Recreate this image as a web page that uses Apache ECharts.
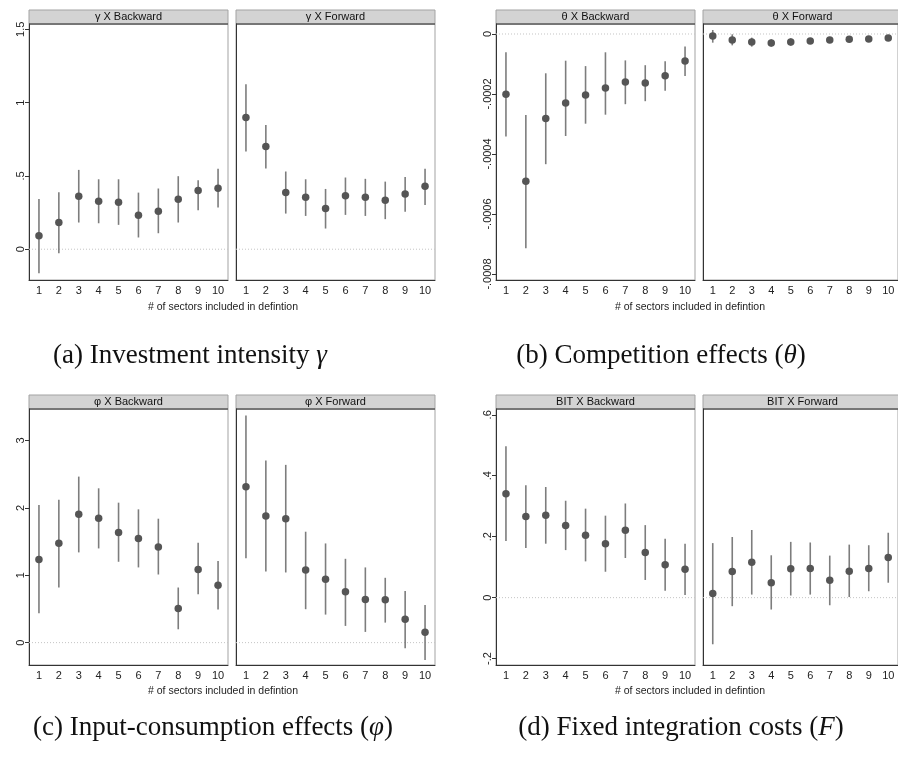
<!DOCTYPE html>
<html>
<head>
<meta charset="utf-8">
<script src="https://cdn.jsdelivr.net/npm/echarts@6/dist/echarts.min.js"></script>
<style>
  html, body { margin: 0; padding: 0; background: #fff; }
  #chart { width: 898px; height: 758px; }
</style>
</head>
<body>
<div id="chart"></div>
<script>
  // x categories: number of sectors included in the definition
  const sectors = ['1', '2', '3', '4', '5', '6', '7', '8', '9', '10'];

  // (a) investment intensity gamma
  const gammaBackEst = [0.091, 0.182, 0.361, 0.327, 0.320, 0.232, 0.259, 0.341, 0.400, 0.416];
  const gammaBackLo = [-0.164, -0.027, 0.182, 0.177, 0.166, 0.080, 0.109, 0.182, 0.266, 0.284];
  const gammaBackHi = [0.343, 0.389, 0.541, 0.477, 0.477, 0.386, 0.414, 0.498, 0.470, 0.548];
  const gammaFwdEst = [0.898, 0.700, 0.386, 0.355, 0.277, 0.364, 0.355, 0.334, 0.377, 0.430];
  const gammaFwdLo = [0.666, 0.550, 0.243, 0.227, 0.141, 0.234, 0.227, 0.205, 0.255, 0.302];
  const gammaFwdHi = [1.125, 0.848, 0.530, 0.477, 0.411, 0.489, 0.480, 0.461, 0.493, 0.548];
  const gammaTicks = [0, 0.5, 1, 1.5];

  // (b) competition effects theta
  const thetaBackEst = [-0.000201, -0.000491, -0.000282, -0.000230, -0.000203, -0.000180, -0.000160, -0.000163, -0.000139, -0.000090];
  const thetaBackLo = [-0.000342, -0.000714, -0.000434, -0.000340, -0.000299, -0.000269, -0.000234, -0.000224, -0.000189, -0.000140];
  const thetaBackHi = [-0.000061, -0.000270, -0.000131, -0.000089, -0.000107, -0.000061, -0.000088, -0.000104, -0.000091, -0.000042];
  const thetaFwdEst = [-0.0000067, -0.000020, -0.0000267, -0.000030, -0.0000267, -0.0000233, -0.000020, -0.0000178, -0.0000167, -0.0000133];
  const thetaFwdLo = [-0.0000289, -0.0000378, -0.0000422, -0.0000422, -0.000039, -0.000033, -0.000028, -0.000025, -0.000023, -0.000019];
  const thetaFwdHi = [0.0000133, -0.0000011, -0.0000122, -0.0000178, -0.0000144, -0.000014, -0.000012, -0.000011, -0.000010, -0.000008];
  const thetaTicks = [-0.0008, -0.0006, -0.0004, -0.0002, 0];

  // (c) input-consumption effects phi
  const phiBackEst = [1.235, 1.473, 1.904, 1.844, 1.636, 1.547, 1.418, 0.506, 1.086, 0.853];
  const phiBackLo = [0.436, 0.818, 1.339, 1.398, 1.200, 1.116, 1.011, 0.198, 0.719, 0.491];
  const phiBackHi = [2.043, 2.122, 2.464, 2.290, 2.077, 1.978, 1.839, 0.818, 1.482, 1.210];
  const phiFwdEst = [2.315, 1.879, 1.839, 1.076, 0.942, 0.754, 0.640, 0.635, 0.347, 0.154];
  const phiFwdLo = [1.254, 1.056, 1.041, 0.496, 0.416, 0.248, 0.159, 0.297, -0.084, -0.258];
  const phiFwdHi = [3.371, 2.702, 2.638, 1.646, 1.472, 1.244, 1.116, 0.962, 0.768, 0.560];
  const phiTicks = [0, 1, 2, 3];

  // (d) fixed integration costs F (BIT)
  const bitBackEst = [0.341, 0.266, 0.270, 0.237, 0.205, 0.177, 0.221, 0.148, 0.108, 0.093];
  const bitBackLo = [0.186, 0.163, 0.177, 0.156, 0.119, 0.085, 0.130, 0.058, 0.023, 0.009];
  const bitBackHi = [0.497, 0.369, 0.363, 0.318, 0.292, 0.269, 0.309, 0.238, 0.193, 0.177];
  const bitFwdEst = [0.014, 0.086, 0.116, 0.049, 0.095, 0.096, 0.057, 0.087, 0.096, 0.132];
  const bitFwdLo = [-0.153, -0.028, 0.010, -0.039, 0.007, 0.010, -0.025, 0.002, 0.021, 0.049];
  const bitFwdHi = [0.179, 0.199, 0.222, 0.139, 0.183, 0.181, 0.138, 0.174, 0.172, 0.213];
  const bitTicks = [-0.2, 0, 0.2, 0.4, 0.6];

  const xTitle = '# of sectors included in defintion';

  // subpanels: data + layout
  const panels = [
    { head: 'γ X Backward', est: gammaBackEst, lo: gammaBackLo, hi: gammaBackHi, ticks: gammaTicks, min: -0.21, max: 1.536, left: 29, top: 24, first: true },
    { head: 'γ X Forward', est: gammaFwdEst, lo: gammaFwdLo, hi: gammaFwdHi, ticks: gammaTicks, min: -0.21, max: 1.536, left: 236, top: 24 },
    { head: 'θ X Backward', est: thetaBackEst, lo: thetaBackLo, hi: thetaBackHi, ticks: thetaTicks, min: -0.00082, max: 0.0000333, left: 496, top: 24, first: true },
    { head: 'θ X Forward', est: thetaFwdEst, lo: thetaFwdLo, hi: thetaFwdHi, ticks: thetaTicks, min: -0.00082, max: 0.0000333, left: 703, top: 24 },
    { head: 'φ X Backward', est: phiBackEst, lo: phiBackLo, hi: phiBackHi, ticks: phiTicks, min: -0.332, max: 3.467, left: 29, top: 409, first: true },
    { head: 'φ X Forward', est: phiFwdEst, lo: phiFwdLo, hi: phiFwdHi, ticks: phiTicks, min: -0.332, max: 3.467, left: 236, top: 409 },
    { head: 'BIT X Backward', est: bitBackEst, lo: bitBackLo, hi: bitBackHi, ticks: bitTicks, min: -0.221, max: 0.619, left: 496, top: 409, first: true },
    { head: 'BIT X Forward', est: bitFwdEst, lo: bitFwdLo, hi: bitFwdHi, ticks: bitTicks, min: -0.221, max: 0.619, left: 703, top: 409 },
  ];

  const W = 199;
  const H = 256;
  const HEAD = 14;

  // Stata style numbers: .5, -.0002
  const stataFmt = (v) => String(+Number(v).toPrecision(6)).replace(/^(-?)0\./, '$1.');

  const grids = [];
  const xAxes = [];
  const yAxes = [];
  const series = [];
  const graphics = [];

  panels.forEach((p, i) => {
    grids.push({
      left: p.left, top: p.top, width: W, height: H,
      show: true, borderColor: '#a3a3a3', borderWidth: 1, backgroundColor: '#fff',
    });
    xAxes.push({
      type: 'category', gridIndex: i, data: sectors, boundaryGap: true,
      axisLine: { onZero: false, lineStyle: { color: '#333', width: 1 } },
      axisTick: { alignWithLabel: true, length: 4, lineStyle: { color: '#333' } },
      axisLabel: { interval: 0, color: '#222', fontSize: 11, margin: 5, fontFamily: 'Liberation Sans' },
    });
    yAxes.push({
      type: 'value', gridIndex: i, min: p.min, max: p.max,
      splitLine: { show: false },
      axisLine: { show: true, onZero: false, lineStyle: { color: '#333', width: 1 } },
      axisTick: { show: !!p.first, length: 4, customValues: p.ticks, lineStyle: { color: '#333' } },
      axisLabel: {
        show: !!p.first, rotate: 90, customValues: p.ticks, margin: 3,
        color: '#222', fontSize: 11, fontFamily: 'Liberation Sans', formatter: stataFmt,
      },
    });

    // dotted zero reference line across the plot region
    series.push({
      type: 'custom', xAxisIndex: i, yAxisIndex: i, z: 1, silent: true,
      data: [[0, 0]],
      renderItem: (params, api) => {
        const cs = params.coordSys;
        const y = api.coord([0, api.value(1)])[1];
        return {
          type: 'line',
          shape: { x1: cs.x, y1: y, x2: cs.x + cs.width, y2: y },
          style: { stroke: '#c4c4c4', lineWidth: 1, lineDash: [1, 2] },
        };
      },
    });
    // confidence intervals
    series.push({
      type: 'custom', xAxisIndex: i, yAxisIndex: i, z: 2,
      data: sectors.map((s, j) => [j, p.lo[j], p.hi[j]]),
      encode: { x: 0, y: [1, 2] },
      renderItem: (params, api) => {
        const a = api.coord([api.value(0), api.value(1)]);
        const b = api.coord([api.value(0), api.value(2)]);
        return {
          type: 'line',
          shape: { x1: a[0], y1: a[1], x2: b[0], y2: b[1] },
          style: { stroke: '#7d7d7d', lineWidth: 1.6 },
        };
      },
    });
    // point estimates
    series.push({
      type: 'scatter', xAxisIndex: i, yAxisIndex: i, z: 3,
      data: p.est, symbolSize: 7.5,
      itemStyle: { color: '#555555', opacity: 1 },
    });

    // strip header
    graphics.push({
      type: 'rect', shape: { x: p.left, y: p.top - HEAD, width: W, height: HEAD },
      style: { fill: '#d3d3d3', stroke: '#a3a3a3', lineWidth: 1 },
    });
    graphics.push({
      type: 'line', shape: { x1: p.left, y1: p.top, x2: p.left + W, y2: p.top },
      style: { stroke: '#333', lineWidth: 1.2 },
    });
    graphics.push({
      type: 'text', x: p.left + W / 2, y: p.top - HEAD / 2,
      style: { text: p.head, fill: '#111', font: '11px "Liberation Sans"', align: 'center', verticalAlign: 'middle' },
    });
  });

  // shared x titles
  [[223, 307], [690, 307], [223, 691], [690, 691]].forEach(([x, y]) => {
    graphics.push({
      type: 'text', x, y,
      style: { text: xTitle, fill: '#222', font: '10.5px "Liberation Sans"', align: 'center', verticalAlign: 'middle' },
    });
  });

  // sub-figure captions
  const captions = [
    { x: 190, y: 356, text: '(a) Investment intensity {m|γ}' },
    { x: 661, y: 356, text: '(b) Competition effects ({m|θ})' },
    { x: 213, y: 728, text: '(c) Input-consumption effects ({m|φ})' },
    { x: 681, y: 728, text: '(d) Fixed integration costs ({m|F})' },
  ];
  captions.forEach((c) => {
    graphics.push({
      type: 'text', x: c.x, y: c.y,
      style: {
        text: c.text, fill: '#111', font: '27px "Liberation Serif"',
        align: 'center', verticalAlign: 'middle',
        rich: { m: { fontStyle: 'italic', fontSize: 27, fontFamily: 'Liberation Serif', fill: '#111' } },
      },
    });
  });

  const chart = echarts.init(document.getElementById('chart'));
  chart.setOption({
    backgroundColor: '#fff',
    animation: false,
    grid: grids,
    xAxis: xAxes,
    yAxis: yAxes,
    series,
    graphic: graphics,
  });

  window.addEventListener('resize', () => chart.resize());
</script>
</body>
</html>
